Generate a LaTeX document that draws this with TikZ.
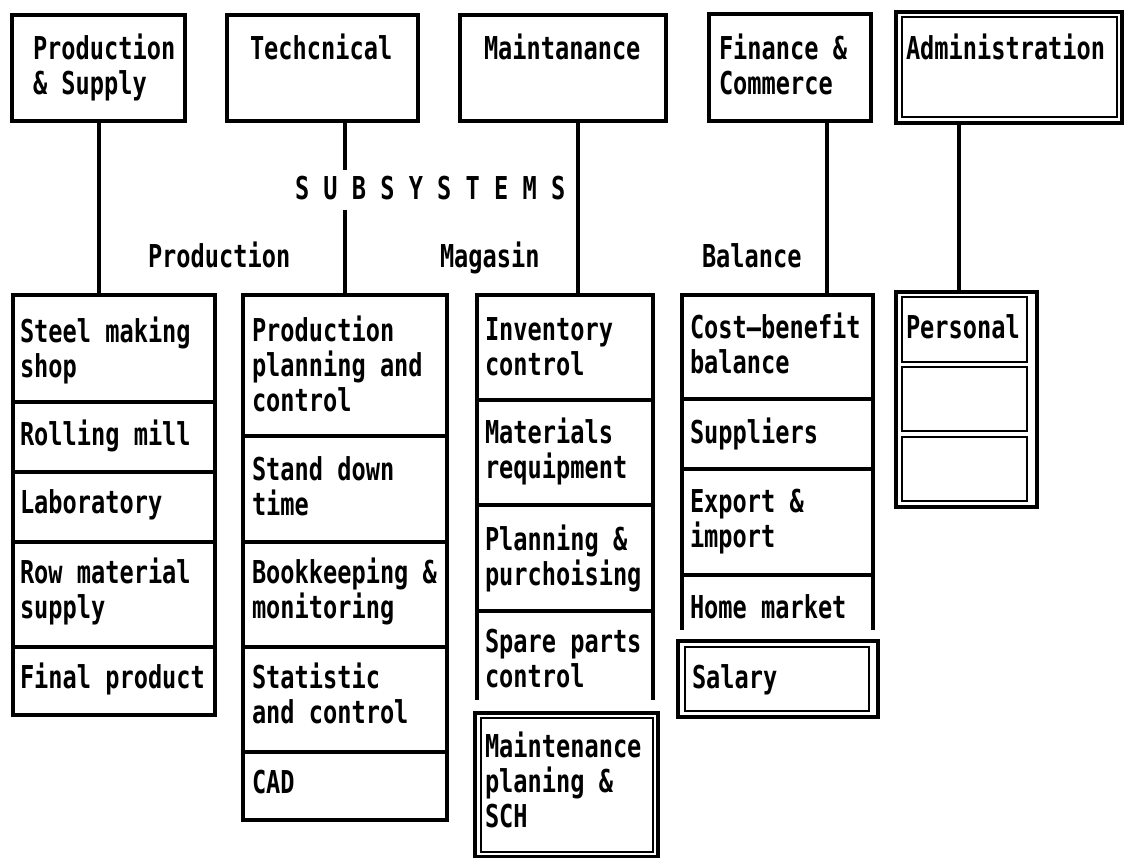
\documentclass[tikz,border=0pt]{standalone}
\usepackage{fontspec}
\setmainfont{DejaVu Sans Mono}[FakeStretch=0.75]
% invisible strut fixing the first baseline 27pt below a text node's top
\newcommand\capstrut{\rule{0pt}{27pt}}
\begin{document}
\begin{tikzpicture}[x=1pt,y=-1pt,
  box/.style={draw, line width=3.2pt, inner sep=0pt, outer sep=0pt, anchor=north west},
  openbox/.style={inner sep=0pt, outer sep=0pt, anchor=north west},
  outerframe/.style={draw, line width=3.8pt, inner sep=0pt, outer sep=0pt, anchor=north west},
  innerframe/.style={draw, line width=2.4pt, inner sep=0pt, outer sep=0pt, anchor=north west},
  txt/.style={anchor=north west, inner sep=0pt, outer sep=0pt, align=left,
    font=\fontsize{31.5}{35}\selectfont\bfseries},
  link/.style={line width=3.2pt},
  side/.style={line width=3.2pt}]

\fill[white] (0,0) rectangle (1129,858);
\useasboundingbox (0,0) rectangle (1129,858);

% ---------- top row: the five systems ----------
\node[box, minimum width=173pt, minimum height=106pt] (ps)    at (12,15) {};
\node[box, minimum width=191pt, minimum height=106pt] (tech)  at (227,15) {};
\node[box, minimum width=206pt, minimum height=106pt] (maint) at (460,15) {};
\node[box, minimum width=162pt, minimum height=107pt] (fin)   at (709,14) {};
\node[outerframe, minimum width=226pt, minimum height=111pt] (adm)   at (896,12) {};
\node[innerframe, minimum width=215pt, minimum height=100pt] (admin) at (902,17) {};

\node[txt] (tps)    at (33,33)  {\capstrut Production\\\& Supply};
\node[txt] (ttech)  at (250,33) {\capstrut Techcnical};
\node[txt] (tmaint) at (484,33) {\capstrut Maintanance};
\node[txt] (tfin)   at (719,33) {\capstrut Finance \&\\Commerce};
\node[txt] (tadm)   at (906,33) {\capstrut Administration};

% ---------- headings ----------
\node[txt] (subs)  at (295,173) {\capstrut S U B S Y S T E M S};
\node[txt] (hprod) at (148,241) {\capstrut Production};
\node[txt] (hmag)  at (440,241) {\capstrut Magasin};
\node[txt] (hbal)  at (702,241) {\capstrut Balance};

% ---------- column 1: production & supply ----------
\node[box, minimum width=202pt, minimum height=107pt] (s1) at (13,295) {};
\node[box, minimum width=202pt, minimum height=70pt]  (s2) at (13,402) {};
\node[box, minimum width=202pt, minimum height=70pt]  (s3) at (13,472) {};
\node[box, minimum width=202pt, minimum height=105pt] (s4) at (13,542) {};
\node[box, minimum width=202pt, minimum height=68pt]  (s5) at (13,647) {};
\node[txt] (ts1) at (20,315) {\capstrut Steel making\\shop};
\node[txt] (ts2) at (20,418) {\capstrut Rolling mill};
\node[txt] (ts3) at (20,486) {\capstrut Laboratory};
\node[txt] (ts4) at (20,556) {\capstrut Row material\\supply};
\node[txt] (ts5) at (20,661) {\capstrut Final product};

% ---------- column 2: technical ----------
\node[box, minimum width=204pt, minimum height=141pt] (t1) at (243,295) {};
\node[box, minimum width=204pt, minimum height=106pt] (t2) at (243,436) {};
\node[box, minimum width=204pt, minimum height=105pt] (t3) at (243,542) {};
\node[box, minimum width=204pt, minimum height=105pt] (t4) at (243,647) {};
\node[box, minimum width=204pt, minimum height=68pt]  (t5) at (243,752) {};
\node[txt] (tt1) at (252,314) {\capstrut Production\\planning and\\control};
\node[txt] (tt2) at (252,453) {\capstrut Stand down\\time};
\node[txt] (tt3) at (252,556) {\capstrut Bookkeeping \&\\monitoring};
\node[txt] (tt4) at (252,661) {\capstrut Statistic\\and control};
\node[txt] (tt5) at (252,766) {\capstrut CAD};

% ---------- column 3: maintenance ----------
\node[box, minimum width=176pt, minimum height=105pt] (m1) at (477,295) {};
\node[box, minimum width=176pt, minimum height=105pt] (m2) at (477,400) {};
\node[box, minimum width=176pt, minimum height=106pt] (m3) at (477,505) {};
\node[openbox, minimum width=176pt, minimum height=89pt] (m4) at (477,611) {};
\draw[side] (m4.north west) -- (m4.south west) (m4.north east) -- (m4.south east);
\node[outerframe, minimum width=183pt, minimum height=144pt] (mp)  at (475,713) {};
\node[innerframe, minimum width=172pt, minimum height=134pt] (mpi) at (481,718) {};
\node[txt] (tm1) at (485,313) {\capstrut Inventory\\control};
\node[txt] (tm2) at (485,416) {\capstrut Materials\\requipment};
\node[txt] (tm3) at (485,523) {\capstrut Planning \&\\purchoising};
\node[txt] (tm4) at (485,625) {\capstrut Spare parts\\control};
\node[txt] (tmp) at (485,730) {\capstrut Maintenance\\planing \&\\SCH};

% ---------- column 4: finance & commerce ----------
\node[box, minimum width=191pt, minimum height=104pt] (f1) at (682,295) {};
\node[box, minimum width=191pt, minimum height=70pt]  (f2) at (682,399) {};
\node[box, minimum width=191pt, minimum height=106pt] (f3) at (682,469) {};
\node[openbox, minimum width=191pt, minimum height=55pt] (f4) at (682,575) {};
\draw[side] (f4.north west) -- (f4.south west) (f4.north east) -- (f4.south east);
\node[outerframe, minimum width=200pt, minimum height=76pt] (sal)  at (678,641) {};
\node[innerframe, minimum width=184pt, minimum height=64pt] (sali) at (685,647) {};
\node[txt] (tf1) at (690,311) {\capstrut Cost–benefit\\balance};
\node[txt] (tf2) at (690,416) {\capstrut Suppliers};
\node[txt] (tf3) at (690,485) {\capstrut Export \&\\import};
\node[txt] (tf4) at (690,591) {\capstrut Home market};
\node[txt] (tsal) at (692,661) {\capstrut Salary};

% ---------- column 5: administration ----------
\node[outerframe, minimum width=141pt, minimum height=215pt] (pg) at (896,292) {};
\node[innerframe, minimum width=125pt, minimum height=65pt] (p1) at (902,297) {};
\node[innerframe, minimum width=125pt, minimum height=64pt] (p2) at (902,367) {};
\node[innerframe, minimum width=125pt, minimum height=64pt] (p3) at (902,437) {};
\node[txt] (tp1) at (906,311) {\capstrut Personal};

% ---------- connectors ----------
\draw[link] ([xshift=87pt]ps.south west) -- ([xshift=86pt]s1.north west);
\draw[link] ([xshift=118pt]tech.south west) -- ++(0,49);
\draw[link] ([xshift=102pt]t1.north west) -- ++(0,-85);
\draw[link] ([xshift=118pt]maint.south west) -- ([xshift=101pt]m1.north west);
\draw[link] ([xshift=118pt]fin.south west) -- ([xshift=145pt]f1.north west);
\draw[link] ([xshift=63pt]adm.south west) -- ([xshift=63pt]pg.north west);
\end{tikzpicture}
\end{document}
